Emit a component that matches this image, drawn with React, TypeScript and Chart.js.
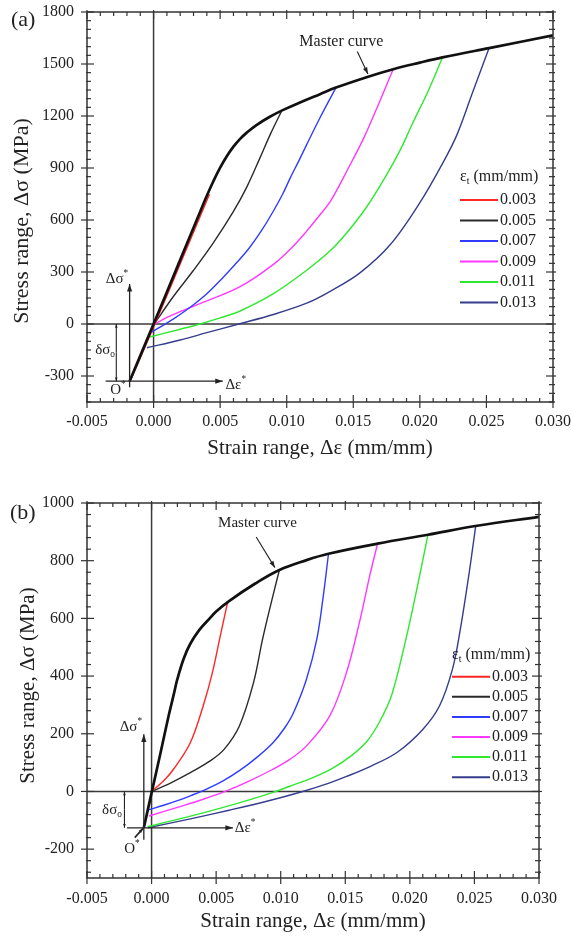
import React, { useEffect, useRef } from 'react';
import { Chart, registerables } from 'chart.js';

Chart.register(...registerables);

type Pt = [number, number];

// ---------------- data ----------------
const STRAIN_TICKS = [-0.005, 0, 0.005, 0.01, 0.015, 0.02, 0.025, 0.03];
const STRESS_TICKS_A = [-300, 0, 300, 600, 900, 1200, 1500, 1800];
const STRESS_TICKS_B = [-200, 0, 200, 400, 600, 800, 1000];
const AMPLITUDE_LABELS = ['0.003', '0.005', '0.007', '0.009', '0.011', '0.013'];
const LOOP_COLORS = ['#ff2626', '#2a2a2a', '#2f3cff', '#ff38ff', '#2fe82f', '#353d8c'];
const MASTER_LABEL = 'Master curve';

// panel (a)
const A_MASTER: Pt[] = [
  [-0.0018, -330], [0, 0], [0.002, 370], [0.003, 555], [0.0035, 648], [0.004, 740],
  [0.0045, 825], [0.005, 902], [0.0055, 968], [0.006, 1023], [0.0065, 1068], [0.007, 1104],
  [0.0077, 1146], [0.0087, 1194], [0.0097, 1234], [0.011, 1278], [0.0125, 1326], [0.0137, 1364],
  [0.016, 1424], [0.018, 1470], [0.02, 1508], [0.0217, 1538], [0.0252, 1592], [0.03, 1665],
];
const A_LOOP_003: Pt[] = [[-0.0017, -320], [0.0001, 0], [0.0021, 365], [0.0042, 748]];
const A_LOOP_005: Pt[] = [
  [0, -5], [0.0015, 160], [0.003, 310], [0.0045, 470], [0.006, 650], [0.007, 790],
  [0.008, 960], [0.0088, 1100], [0.0096, 1226],
];
const A_LOOP_007: Pt[] = [
  [-0.0002, -50], [0.0015, 30], [0.0027, 94], [0.004, 175], [0.0052, 267], [0.0062, 350],
  [0.0072, 440], [0.0082, 550], [0.009, 652], [0.0097, 750], [0.01025, 840], [0.0109, 940],
  [0.0115, 1035], [0.0125, 1190], [0.0137, 1364],
];
const A_LOOP_009: Pt[] = [
  [0, -5], [0.001, 38], [0.002, 72], [0.004, 133], [0.0065, 215], [0.009, 344], [0.0105, 450],
  [0.0115, 536], [0.0125, 630], [0.0133, 710], [0.0145, 880], [0.0158, 1075], [0.017, 1287],
  [0.018, 1470],
];
const A_LOOP_011: Pt[] = [
  [-0.0003, -75], [0.002, -30], [0.0035, 0], [0.005, 35], [0.0065, 75], [0.009, 175],
  [0.0115, 310], [0.0133, 425], [0.0145, 525], [0.016, 675], [0.0175, 860], [0.0185, 1000],
  [0.0195, 1165], [0.0206, 1340], [0.0217, 1538],
];
const A_LOOP_013: Pt[] = [
  [-0.0005, -137], [0.002, -92], [0.004, -50], [0.0064, 0], [0.009, 55], [0.0115, 120],
  [0.0133, 190], [0.0155, 295], [0.0178, 460], [0.02, 700], [0.0218, 940], [0.0228, 1094],
  [0.024, 1344], [0.0252, 1592],
];

// panel (b)
const B_MASTER: Pt[] = [
  [-0.0006, -126], [0, -5], [0.0007, 135], [0.0013, 258], [0.0017, 333], [0.002, 390],
  [0.0025, 462], [0.003, 512], [0.0037, 560], [0.0045, 600], [0.005, 624], [0.006, 660],
  [0.008, 720], [0.0099, 768], [0.012, 802], [0.0137, 824], [0.0175, 859], [0.0214, 890],
  [0.0252, 921], [0.03, 952],
];
const B_LOOP_003: Pt[] = [
  [0, 0], [0.001, 40], [0.0017, 77], [0.003, 169], [0.004, 297], [0.0047, 410], [0.0053, 535],
  [0.0059, 658],
];
const B_LOOP_005: Pt[] = [
  [0, 0], [0.0015, 30], [0.003, 65], [0.0045, 105], [0.0056, 145], [0.0068, 227], [0.0079, 378],
  [0.0086, 529], [0.0094, 679], [0.0099, 768],
];
const B_LOOP_007: Pt[] = [
  [-0.0002, -63], [0.001, -47], [0.002, -32], [0.003, -15], [0.004, 3], [0.0055, 36],
  [0.0068, 72], [0.0082, 120], [0.0094, 169], [0.0103, 220], [0.011, 274], [0.012, 390],
  [0.0128, 529], [0.0133, 679], [0.0137, 824],
];
const B_LOOP_009: Pt[] = [
  [-0.0002, -85], [0.002, -55], [0.004, -27], [0.0057, 0], [0.0075, 35], [0.0094, 77],
  [0.0107, 111], [0.012, 158], [0.0138, 262], [0.0151, 413], [0.0161, 587], [0.0169, 749],
  [0.0175, 859],
];
const B_LOOP_011: Pt[] = [
  [-0.0003, -122], [0.002, -97], [0.005, -62], [0.0075, -30], [0.0094, -3], [0.0107, 18],
  [0.0125, 48], [0.014, 80], [0.0155, 125], [0.0167, 175], [0.0177, 245], [0.0186, 335],
  [0.0197, 529], [0.0206, 714], [0.0214, 890],
];
const B_LOOP_013: Pt[] = [
  [-0.0003, -126], [0.003, -95], [0.006, -65], [0.009, -33], [0.0117, 0], [0.0138, 30],
  [0.0151, 52], [0.017, 88], [0.019, 135], [0.021, 215], [0.0223, 297], [0.0233, 424],
  [0.0239, 560], [0.0246, 760], [0.0251, 921],
];

// ---------------- layout / style ----------------
const SERIF = '"Liberation Serif", "Times New Roman", Times, serif';
const INK = '#222';
const W = 571;
const H = 468;

interface PanelSpec {
  tag: string;
  tagPos: Pt;
  master: Pt[];
  loops: Pt[][];
  yMin: number;
  yMax: number;
  yTicks: number[];
  yMinor: number;
  yMajorEvery: number;
  area: { left: number; top: number; right: number; bottom: number };
  xLabelPad: number;
  xTitlePad: number;
  xTitleSize: number;
  yTitle: { x: number; y: number; size: number };
  annSize: number;
  masterText: Pt;
  masterSize: number;
  masterArrow: [Pt, Pt];
  origin: Pt;
  sigTop: number;
  sigBottom: number;
  sigText: Pt;
  epsLeft: number;
  epsRight: number;
  epsText: Pt;
  bracketX: number;
  bracketText: Pt;
  oText: Pt;
  oArrow?: [Pt, Pt];
  legend: { x: number; titleY: number; firstY: number; step: number };
}

const PANEL_A: PanelSpec = {
  tag: '(a)',
  tagPos: [11, 20],
  master: A_MASTER,
  loops: [A_LOOP_003, A_LOOP_005, A_LOOP_007, A_LOOP_009, A_LOOP_011, A_LOOP_013],
  yMin: -450,
  yMax: 1800,
  yTicks: STRESS_TICKS_A,
  yMinor: 50,
  yMajorEvery: 6,
  area: { left: 87, top: 12, right: 553, bottom: 402 },
  xLabelPad: 10,
  xTitlePad: 7,
  xTitleSize: 21,
  yTitle: { x: 22, y: 221, size: 22 },
  annSize: 15,
  masterText: [0.0141, 1627],
  masterSize: 16,
  masterArrow: [[0.0153, 1572], [0.0161, 1442]],
  origin: [-0.0018, -330],
  sigTop: 231,
  sigBottom: -365,
  sigText: [-0.00275, 258],
  epsLeft: -0.0036,
  epsRight: 0.0052,
  epsText: [0.0054, -352],
  bracketX: -0.0028,
  bracketText: [-0.0029, -150],
  oText: [-0.00268, -382],
  legend: { x: 460, titleY: 177, firstY: 200, step: 20.5 },
};

const PANEL_B: PanelSpec = {
  tag: '(b)',
  tagPos: [10, 45],
  master: B_MASTER,
  loops: [B_LOOP_003, B_LOOP_005, B_LOOP_007, B_LOOP_009, B_LOOP_011, B_LOOP_013],
  yMin: -300,
  yMax: 1000,
  yTicks: STRESS_TICKS_B,
  yMinor: 40,
  yMajorEvery: 5,
  area: { left: 87, top: 35, right: 539, bottom: 410 },
  xLabelPad: 11,
  xTitlePad: 2,
  xTitleSize: 21,
  yTitle: { x: 28, y: 217.5, size: 21 },
  annSize: 15,
  masterText: [0.0082, 929],
  masterSize: 15,
  masterArrow: [[0.0081, 882], [0.00955, 776]],
  origin: [-0.0006, -126],
  sigTop: 198,
  sigBottom: -167,
  sigText: [-0.0016, 222],
  epsLeft: -0.0019,
  epsRight: 0.0063,
  epsText: [0.00645, -128],
  bracketX: -0.0021,
  bracketText: [-0.0023, -63],
  oText: [-0.00152, -198],
  oArrow: [[-0.0013, -160], [-0.00066, -128]],
  legend: { x: 452, titleY: 187, firstY: 208.7, step: 20.1 },
};

// ---------------- drawing helpers ----------------
type Seg = { t: string; sup?: boolean; sub?: boolean };

function ln(ctx: CanvasRenderingContext2D, x1: number, y1: number, x2: number, y2: number) {
  ctx.beginPath();
  ctx.moveTo(x1, y1);
  ctx.lineTo(x2, y2);
  ctx.stroke();
}

function arrow(ctx: CanvasRenderingContext2D, x1: number, y1: number, x2: number, y2: number, head = 7) {
  ln(ctx, x1, y1, x2, y2);
  const ang = Math.atan2(y2 - y1, x2 - x1);
  ctx.beginPath();
  ctx.moveTo(x2, y2);
  ctx.lineTo(x2 - head * Math.cos(ang - 0.33), y2 - head * Math.sin(ang - 0.33));
  ctx.lineTo(x2 - head * Math.cos(ang + 0.33), y2 - head * Math.sin(ang + 0.33));
  ctx.closePath();
  ctx.fill();
}

function rich(
  ctx: CanvasRenderingContext2D,
  segs: Seg[],
  x: number,
  y: number,
  size: number,
  align: 'left' | 'center' | 'right' = 'left',
) {
  const fontFor = (s: Seg) => `${s.sup || s.sub ? size * 0.62 : size}px ${SERIF}`;
  let total = 0;
  const widths = segs.map((s) => {
    ctx.font = fontFor(s);
    const w = ctx.measureText(s.t).width;
    total += w;
    return w;
  });
  let cx = align === 'left' ? x : align === 'center' ? x - total / 2 : x - total;
  ctx.textAlign = 'left';
  ctx.textBaseline = 'middle';
  segs.forEach((s, i) => {
    ctx.font = fontFor(s);
    const dy = s.sup ? -size * 0.36 : s.sub ? size * 0.3 : 0;
    ctx.fillText(s.t, cx, y + dy);
    cx += widths[i];
  });
}

function makeDecor(p: PanelSpec) {
  return {
    id: 'panelDecor',
    beforeDatasetsDraw(chart: any) {
      const { ctx, chartArea: a } = chart;
      const xs = chart.scales.x;
      const ys = chart.scales.y;
      ctx.save();
      ctx.strokeStyle = '#3a3a3a';
      ctx.lineWidth = 1.5;
      const y0 = ys.getPixelForValue(0);
      const x0 = xs.getPixelForValue(0);
      ln(ctx, a.left, y0, a.right, y0);
      ln(ctx, x0, a.top, x0, a.bottom);
      ctx.restore();
    },
    afterDraw(chart: any) {
      const { ctx, chartArea: a } = chart;
      const xs = chart.scales.x;
      const ys = chart.scales.y;
      const px = (v: number) => xs.getPixelForValue(v);
      const py = (v: number) => ys.getPixelForValue(v);
      ctx.save();

      // frame
      ctx.strokeStyle = '#333';
      ctx.lineWidth = 1.5;
      ctx.strokeRect(a.left, a.top, a.right - a.left, a.bottom - a.top);

      // ticks
      ctx.lineWidth = 1.2;
      const xMinor = 0.001;
      for (let k = Math.round(-0.005 / xMinor); k <= Math.round(0.03 / xMinor); k++) {
        const X = px(k * xMinor);
        const major = k % 5 === 0;
        const inn = major ? 7 : 4;
        ln(ctx, X, a.bottom + (major ? 6 : 0), X, a.bottom - inn);
        ln(ctx, X, a.top - (major ? 2 : 0), X, a.top + inn);
      }
      for (let k = Math.round(p.yMin / p.yMinor); k <= Math.round(p.yMax / p.yMinor); k++) {
        const Y = py(k * p.yMinor);
        const major = k % p.yMajorEvery === 0;
        const inn = major ? 7 : 4;
        ln(ctx, a.left - (major ? 6 : 1), Y, a.left + inn, Y);
        ln(ctx, a.right + (major ? 3 : 2), Y, a.right - inn, Y);
      }

      // y axis title
      ctx.fillStyle = INK;
      ctx.save();
      ctx.translate(p.yTitle.x, p.yTitle.y);
      ctx.rotate(-Math.PI / 2);
      ctx.font = `${p.yTitle.size}px ${SERIF}`;
      ctx.textAlign = 'center';
      ctx.textBaseline = 'middle';
      ctx.fillText('Stress range, \u0394\u03c3 (MPa)', 0, 0);
      ctx.restore();

      // panel tag
      ctx.font = `22px ${SERIF}`;
      ctx.textAlign = 'left';
      ctx.textBaseline = 'middle';
      ctx.fillText(p.tag, p.tagPos[0], p.tagPos[1]);

      // master curve label + arrow
      rich(ctx, [{ t: MASTER_LABEL }], px(p.masterText[0]), py(p.masterText[1]), p.masterSize, 'center');
      ctx.strokeStyle = INK;
      ctx.fillStyle = INK;
      ctx.lineWidth = 1.1;
      arrow(ctx, px(p.masterArrow[0][0]), py(p.masterArrow[0][1]), px(p.masterArrow[1][0]), py(p.masterArrow[1][1]), 7);

      // delta sigma* arrow
      const ox = px(p.origin[0]);
      const oy = py(p.origin[1]);
      ctx.lineWidth = 1.3;
      arrow(ctx, ox, py(p.sigBottom), ox, py(p.sigTop), 8);
      rich(ctx, [{ t: '\u0394\u03c3' }, { t: '*', sup: true }], px(p.sigText[0]), py(p.sigText[1]), p.annSize, 'center');

      // delta epsilon* arrow
      arrow(ctx, px(p.epsLeft), oy, px(p.epsRight), oy, 8);
      rich(ctx, [{ t: '\u0394\u03b5' }, { t: '*', sup: true }], px(p.epsText[0]), py(p.epsText[1]), p.annSize, 'left');

      // delta sigma_o bracket
      const bx = px(p.bracketX);
      ctx.lineWidth = 1.1;
      const mid = (py(0) + oy) / 2;
      arrow(ctx, bx, mid, bx, py(0), 4);
      arrow(ctx, bx, mid, bx, oy, 4);
      rich(ctx, [{ t: '\u03b4\u03c3' }, { t: 'o', sub: true }], px(p.bracketText[0]), py(p.bracketText[1]), p.annSize, 'right');

      // O*
      rich(ctx, [{ t: 'O' }, { t: '*', sup: true }], px(p.oText[0]), py(p.oText[1]), p.annSize, 'center');
      if (p.oArrow) {
        ctx.lineWidth = 1.6;
        arrow(ctx, px(p.oArrow[0][0]), py(p.oArrow[0][1]), px(p.oArrow[1][0]), py(p.oArrow[1][1]), 5);
      }

      // legend
      const lg = p.legend;
      ctx.fillStyle = INK;
      rich(ctx, [{ t: '\u03b5' }, { t: 't', sub: true }, { t: ' (mm/mm)' }], lg.x, lg.titleY, 16, 'left');
      const entries = chart.data.datasets.filter((d: any) => d.label !== MASTER_LABEL);
      entries.forEach((d: any, i: number) => {
        const y = lg.firstY + i * lg.step;
        ctx.strokeStyle = d.borderColor;
        ctx.lineWidth = 2;
        ln(ctx, lg.x, y, lg.x + 38, y);
        ctx.fillStyle = INK;
        rich(ctx, [{ t: d.label }], lg.x + 40, y, 16, 'left');
      });

      ctx.restore();
    },
  };
}

function buildConfig(p: PanelSpec): any {
  const toXY = (pts: Pt[]) => pts.map(([x, y]) => ({ x, y }));
  const datasets: any[] = p.loops.map((pts, i) => ({
    label: AMPLITUDE_LABELS[i],
    data: toXY(pts),
    borderColor: LOOP_COLORS[i],
    borderWidth: 1.4,
    pointRadius: 0,
    showLine: true,
    fill: false,
    tension: 0.35,
    order: 1,
  }));
  datasets.push({
    label: MASTER_LABEL,
    data: toXY(p.master),
    borderColor: '#111',
    borderWidth: 2.7,
    pointRadius: 0,
    showLine: true,
    fill: false,
    tension: 0.4,
    order: -1,
  });

  const tickFont = { family: SERIF, size: 16 };
  return {
    type: 'scatter',
    data: { datasets },
    plugins: [makeDecor(p)],
    options: {
      responsive: false,
      animation: false,
      devicePixelRatio: 1,
      events: [],
      layout: { padding: { left: 0, top: p.area.top, right: W - p.area.right, bottom: 0 } },
      plugins: { legend: { display: false }, tooltip: { enabled: false } },
      scales: {
        x: {
          type: 'linear',
          min: -0.005,
          max: 0.03,
          grid: { display: false, drawTicks: false },
          border: { display: false },
          afterBuildTicks: (s: any) => {
            s.ticks = STRAIN_TICKS.map((v) => ({ value: v }));
          },
          afterFit: (s: any) => {
            s.height = H - p.area.bottom;
            s.paddingLeft = 0;
            s.paddingRight = 0;
          },
          ticks: {
            autoSkip: false,
            maxRotation: 0,
            padding: p.xLabelPad,
            color: INK,
            font: tickFont,
            callback: (v: any) => Number(v).toFixed(3),
          },
          title: {
            display: true,
            text: 'Strain range, \u0394\u03b5 (mm/mm)',
            color: INK,
            font: { family: SERIF, size: p.xTitleSize },
            padding: { top: 0, bottom: p.xTitlePad },
          },
        },
        y: {
          type: 'linear',
          min: p.yMin,
          max: p.yMax,
          grid: { display: false, drawTicks: false },
          border: { display: false },
          afterBuildTicks: (s: any) => {
            s.ticks = p.yTicks.map((v) => ({ value: v }));
          },
          afterFit: (s: any) => {
            s.width = p.area.left;
            s.paddingTop = 0;
            s.paddingBottom = 0;
          },
          ticks: {
            autoSkip: false,
            padding: 13,
            color: INK,
            font: tickFont,
            callback: (v: any) => String(v),
          },
        },
      },
    },
  };
}

function PanelChart({ spec }: { spec: PanelSpec }) {
  const ref = useRef<HTMLCanvasElement>(null);
  useEffect(() => {
    if (!ref.current) return;
    const chart = new Chart(ref.current, buildConfig(spec));
    return () => chart.destroy();
  }, [spec]);
  return <canvas ref={ref} width={W} height={H} style={{ display: 'block', width: W, height: H }} />;
}

export default function App() {
  useEffect(() => {
    document.body.style.margin = '0';
    document.body.style.background = '#fff';
  }, []);
  return (
    <div style={{ width: W, height: 936, background: '#fff' }}>
      <PanelChart spec={PANEL_A} />
      <PanelChart spec={PANEL_B} />
    </div>
  );
}
